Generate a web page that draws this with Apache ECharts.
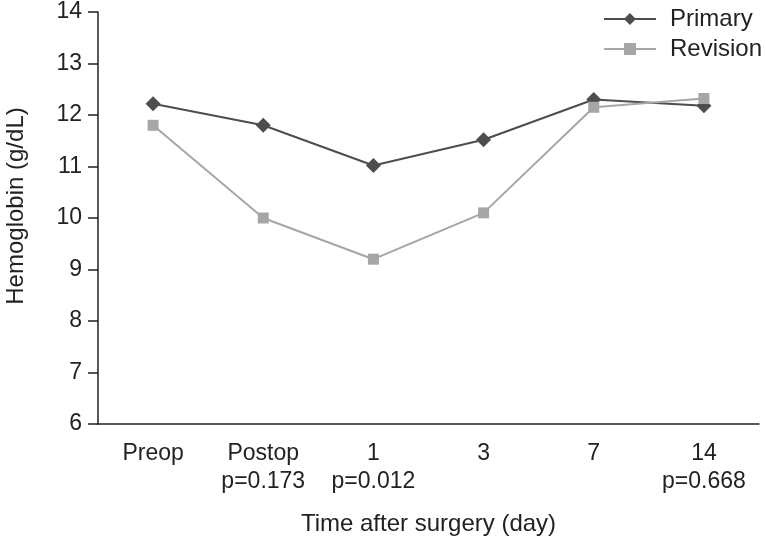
<!DOCTYPE html>
<html>
<head>
<meta charset="utf-8">
<script src="https://cdn.jsdelivr.net/npm/echarts@6/dist/echarts.min.js"></script>
<style>
  html, body { margin: 0; padding: 0; background: #fff; }
  #chart { width: 765px; height: 538px; }
</style>
</head>
<body>
<div id="chart"></div>
<script>
// data
const categories = ['Preop', 'Postop', '1', '3', '7', '14'];
const pValues = ['', 'p=0.173', 'p=0.012', '', '', 'p=0.668'];
const primary = [12.22, 11.8, 11.02, 11.52, 12.3, 12.18];
const revision = [11.8, 10.0, 9.2, 10.1, 12.15, 12.32];

const font = 'Liberation Sans, Arial, sans-serif';
const dark = '#4d4d4d';
const light = '#a6a6a6';
const ink = '#222';

const chart = echarts.init(document.getElementById('chart'));

chart.setOption({
  animation: false,
  textStyle: { fontFamily: font },
  grid: { left: 98, right: 6, top: 12, bottom: 114, outerBoundsMode: 'none' },
  legend: {
    orient: 'vertical',
    right: -2,
    top: 2,
    itemWidth: 52,
    itemHeight: 15,
    itemGap: 6,
    textStyle: { fontSize: 24, color: ink, fontFamily: font, padding: [0, 0, 0, 9] },
    data: ['Primary', 'Revision'],
  },
  xAxis: {
    type: 'category',
    data: categories.map((c, i) => (pValues[i] ? c + '\n' + pValues[i] : c)),
    boundaryGap: true,
    name: 'Time after surgery (day)',
    nameLocation: 'middle',
    nameGap: 88,
    nameTextStyle: { fontSize: 24, color: ink },
    axisLine: { lineStyle: { color: ink, width: 1.5 } },
    axisTick: { length: 10, lineStyle: { color: ink, width: 1.5 } },
    axisLabel: {
      fontSize: 23,
      color: ink,
      margin: 16,
      lineHeight: 28,
      interval: 0,
    },
    splitLine: { show: false },
  },
  yAxis: {
    type: 'value',
    min: 6,
    max: 14,
    interval: 1,
    name: 'Hemoglobin (g/dL)',
    nameLocation: 'middle',
    nameGap: 70,
    nameTextStyle: { fontSize: 24, color: ink, padding: [0, 0, 0, 24] },
    axisLine: { show: true, lineStyle: { color: ink, width: 1.5 } },
    axisTick: { show: true, length: 10, lineStyle: { color: ink, width: 1.5 } },
    axisLabel: { fontSize: 23, color: ink, margin: 16 },
    splitLine: { show: false },
  },
  series: [
    {
      name: 'Primary',
      type: 'line',
      data: primary,
      symbol: 'diamond',
      symbolSize: 15,
      color: dark,
      lineStyle: { color: dark, width: 2 },
      itemStyle: { color: dark },
    },
    {
      name: 'Revision',
      type: 'line',
      data: revision,
      symbol: 'rect',
      symbolSize: 11,
      color: light,
      lineStyle: { color: light, width: 2 },
      itemStyle: { color: light },
    },
  ],
});
</script>
</body>
</html>
